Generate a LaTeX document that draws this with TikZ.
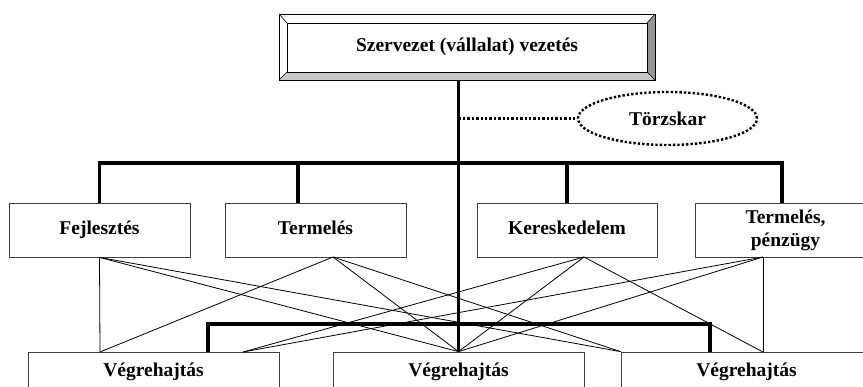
\documentclass[tikz,border=0pt]{standalone}
\usepackage{fontspec}
\setmainfont{Liberation Serif}
\usetikzlibrary{shapes.geometric, calc}

\begin{document}
\begin{tikzpicture}[x=1pt,y=-1pt,
    doboz/.style={rectangle,draw=black!75,fill=white,line width=0.8pt,inner sep=0pt,font=\bfseries\fontsize{19.5}{23}\selectfont},
    egysor/.style={text height=13.5pt,text depth=4.5pt},
    vekony/.style={line width=0.8pt},
    vastag/.style={line width=3.2pt},
    pontozott/.style={line width=2.4pt,dash pattern=on 2.4pt off 2pt}]
    \useasboundingbox (0,0) rectangle (863,386);
    \clip (0,0) rectangle (863,386);

    % Vezetés (kiemelt keret)
    \fill[black!22] (279,80) -- (287,72) -- (647,72) -- (655,80) -- cycle;
    \fill[black!42] (655,14) -- (647,23) -- (647,72) -- (655,80) -- cycle;
    \draw[line width=0.8pt] (279,14) rectangle (655,80);
    \draw[line width=0.8pt] (287,23) rectangle (647,72);
    \draw[line width=0.6pt] (279,14) -- (287,23) (655,14) -- (647,23) (279,80) -- (287,72) (655,80) -- (647,72);
    \node[doboz,egysor,draw=none,fill=none,minimum width=376,minimum height=66] (vez) at (467,47) {Szervezet (vállalat) vezetés};

    % Törzskar
    \node[ellipse,draw,pontozott,minimum width=179,minimum height=53,inner sep=0pt,font=\bfseries\fontsize{19.5}{23}\selectfont] (tkar) at (667.5,118.5) {Törzskar};

    % Osztályok
    \node[doboz,egysor,minimum width=181,minimum height=54] (fejl) at (99.5,230) {Fejlesztés};
    \node[doboz,egysor,minimum width=181,minimum height=54] (term) at (315.5,230) {Termelés};
    \node[doboz,egysor,minimum width=180,minimum height=54] (ker) at (567,230) {Kereskedelem};
    \node[doboz,minimum width=181,minimum height=54,align=center] (tp) at (785.5,230) {Termelés,\\pénzügy};

    % Végrehajtás
    \node[doboz,egysor,minimum width=251,minimum height=40] (vh1) at (153.5,372) {Végrehajtás};
    \node[doboz,egysor,minimum width=251,minimum height=40] (vh2) at (458.5,372) {Végrehajtás};
    \node[doboz,egysor,minimum width=251,minimum height=40] (vh3) at (746.5,372) {Végrehajtás};

    % vastag vonalak
    \draw[vastag] (vez.south -| vh2.north) -- (vh2.north);
    \draw[vastag] (fejl.north) |- (782,163) -- (782,203);
    \draw[vastag] (298,163) -- (298,203);
    \draw[vastag] (ker.north) -- ++(0,-40);
    \draw[vastag] (208,352) |- (710,324) -- (710,352);
    \draw[pontozott] (tkar.west -| vh2.north) -- (tkar.west);

    % kapcsolódási pontok
    \coordinate (fa) at (fejl.south);
    \coordinate (ta) at (333,257);
    \coordinate (ka) at (584,257);
    \coordinate (pa) at (763,257);
    \coordinate (v1a) at (100,352);
    \coordinate (v1b) at (243,352);
    \coordinate (v2a) at (vh2.north);
    \coordinate (v3a) at (vh3.north west);
    \coordinate (v3b) at (763,352);

    \foreach \a in {fa,ta}
        \foreach \b in {v1a,v2a,v3a}
            \draw[vekony] (\a) -- (\b);
    \foreach \a in {ka,pa}
        \foreach \b in {v1b,v2a,v3b}
            \draw[vekony] (\a) -- (\b);
\end{tikzpicture}
\end{document}
